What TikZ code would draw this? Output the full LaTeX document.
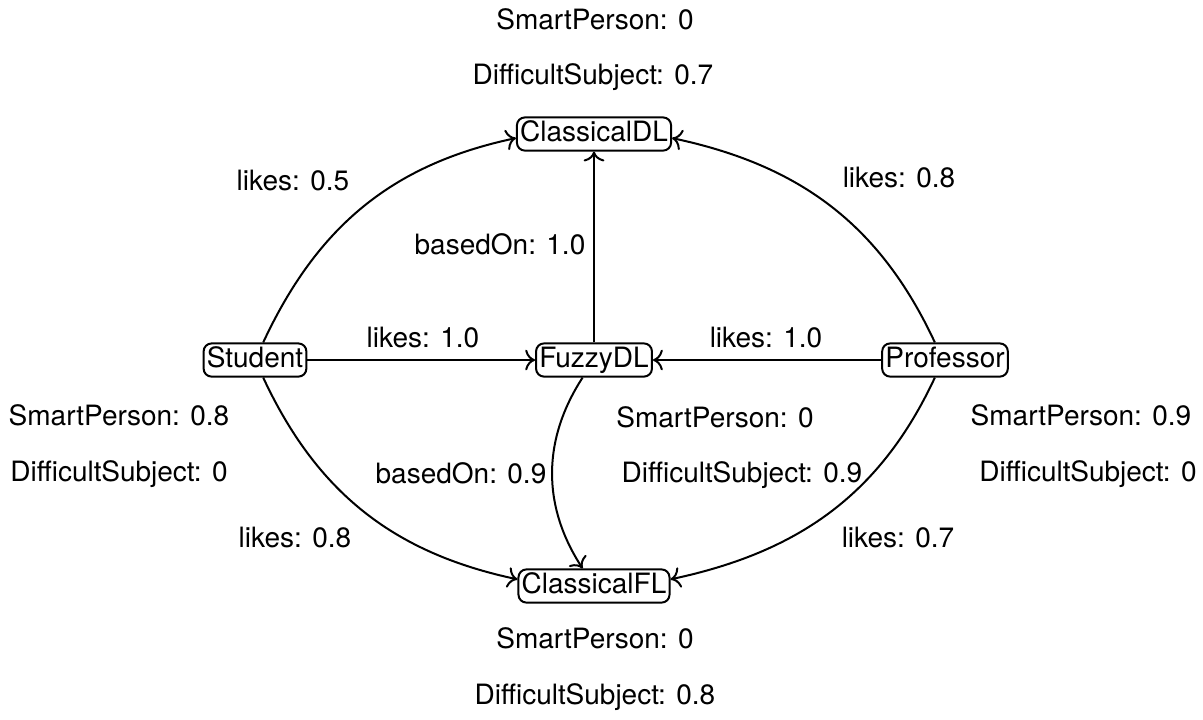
\documentclass[tikz,border=0pt]{standalone}
\usepackage{fontspec}
\setmainfont{TeX Gyre Heros}
\usetikzlibrary{arrows.meta}
\begin{document}
\begin{tikzpicture}[x=0.5pt,y=0.5pt,
  every node/.style={font=\fontsize{14}{16}\selectfont},
  concept/.style={draw,rounded corners=4pt,line width=1pt,inner xsep=1.6pt,inner ysep=1.7pt,text height=10.2pt,text depth=3pt},
  lbl/.style={inner sep=0pt,text height=10.2pt,text depth=3pt},
  link/.style={-{To[scale=1.3]},line width=1pt}]
\useasboundingbox (0,0) rectangle (1203,-719);
% concepts
\node[concept] (CDL) at (594,-134) {ClassicalDL};
\node[concept] (Stu) at (255,-360) {Student};
\node[concept] (FDL) at (594,-360) {FuzzyDL};
\node[concept] (Prof) at (945,-360) {Professor};
\node[concept] (CFL) at (594,-586) {ClassicalFL};
% attribute texts
\node[lbl] (t1) at (595,-22) {SmartPerson: 0};
\node[lbl] (t2) at (593,-77) {DifficultSubject: 0.7};
\node[lbl] (s1) at (119,-418) {SmartPerson: 0.8};
\node[lbl] (s2) at (119,-474) {DifficultSubject: 0};
\node[lbl] (f1) at (715,-420) {SmartPerson: 0};
\node[lbl] (f2) at (742,-475) {DifficultSubject: 0.9};
\node[lbl] (p1) at (1081,-418) {SmartPerson: 0.9};
\node[lbl] (p2) at (1088,-474) {DifficultSubject: 0};
\node[lbl] (b1) at (595,-641) {SmartPerson: 0};
\node[lbl] (b2) at (595,-697) {DifficultSubject: 0.8};
% edges
\draw[link] (Stu.65) to[out=65,in=192] (CDL.183);
\draw[link] (Prof.120) to[out=115,in=-12] (CDL.357);
\draw[link] (Stu.-65) to[out=-65,in=168] (CFL.175);
\draw[link] (Prof.240) to[out=245,in=12] (CFL.5);
\draw[link] (Stu) -- (FDL);
\draw[link] (Prof) -- (FDL);
\draw[link] (FDL) -- (CDL);
\draw[link] (FDL.237) to[out=237,in=123] (CFL.123);
% edge labels
\node[lbl] (l1) at (293,-183) {likes: 0.5};
\node[lbl] (l2) at (899,-180) {likes: 0.8};
\node[lbl] (l3) at (500,-247) {basedOn: 1.0};
\node[lbl] (l4) at (423,-340) {likes: 1.0};
\node[lbl] (l5) at (766,-340) {likes: 1.0};
\node[lbl] (l6) at (461,-476) {basedOn: 0.9};
\node[lbl] (l7) at (295,-540) {likes: 0.8};
\node[lbl] (l8) at (898,-540) {likes: 0.7};
\end{tikzpicture}
\end{document}
